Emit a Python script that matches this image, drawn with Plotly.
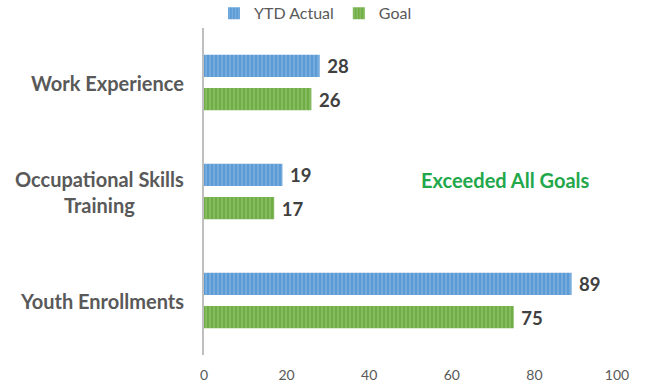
import plotly.graph_objects as go

categories = ["Work Experience", "Occupational Skills<br>Training", "Youth Enrollments"]
ytd_actual = [28, 19, 89]
goal = [26, 17, 75]
series_names = ["YTD Actual", "Goal"]
x_ticks = [0, 20, 40, 60, 80, 100]
note = "Exceeded All Goals"

FONT = "Lato, 'Open Sans', sans-serif"
blue = "#5B9BD5"
green = "#70AD47"

fig = go.Figure()
for name, vals, col, light in [(series_names[0], ytd_actual, blue, "#A9CBEB"),
                               (series_names[1], goal, green, "#A8D58C")]:
    fig.add_trace(go.Bar(
        y=categories, x=vals, orientation="h", name=name,
        marker=dict(color=col, line=dict(width=0),
                    pattern=dict(shape="|", size=4, solidity=0.35, fgcolor=light)),
        text=[f"\u00a0{v}" for v in vals], textposition="outside",
        textfont=dict(family=FONT, size=25, color="#404040", weight="bold"),
        cliponaxis=False,
    ))

for c in categories:
    fig.add_annotation(x=0, y=c, xref="paper", yref="y", xanchor="right", xshift=-18,
                       text=f"<b>{c}</b>", showarrow=False, align="center",
                       font=dict(family=FONT, size=20, color="#595959"))

fig.add_annotation(x=0.729, y=0.535, xref="paper", yref="paper", xanchor="center",
                   yanchor="middle", text=f"<b>{note}</b>",
                   showarrow=False, font=dict(family=FONT, size=20, color="#22A84A"))

fig.update_layout(
    width=645, height=385,
    margin=dict(l=204, r=28, t=28, b=30, autoexpand=False),
    barmode="group", bargap=0.39, bargroupgap=0.33,
    plot_bgcolor="white", paper_bgcolor="white",
    font=dict(family=FONT, color="#595959"),
    legend=dict(orientation="h", x=0.27, xanchor="center", y=1.045, yanchor="middle",
                font=dict(size=16, color="#595959"), itemwidth=30),
    xaxis=dict(range=[0, 100], tickvals=x_ticks, showgrid=False, zeroline=False,
               showline=False, tickfont=dict(size=14, color="#595959"), ticks="",
               ticklabelstandoff=10),
    yaxis=dict(autorange="reversed", showticklabels=False, showline=True,
               linecolor="#BFBFBF", linewidth=1.5, ticks="", showgrid=False),
)

fig.write_html("out.html")
